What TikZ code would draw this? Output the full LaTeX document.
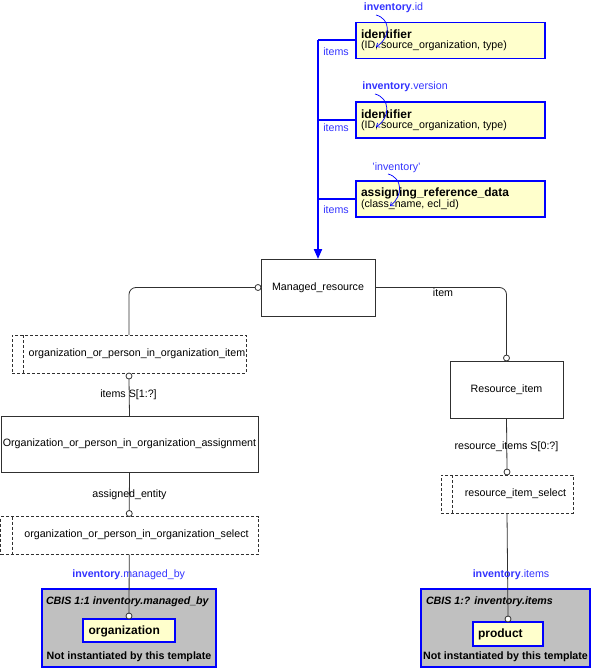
\documentclass[tikz,border=0pt]{standalone}
\usepackage{fontspec}
\setmainfont{Liberation Sans}
\usetikzlibrary{arrows.meta}
\definecolor{ybox}{HTML}{FFFFCC}
\definecolor{gbox}{HTML}{C0C0C0}
\definecolor{bl}{HTML}{0000FF}
\definecolor{bltxt}{HTML}{3333FF}
\definecolor{ln}{HTML}{303030}
\begin{document}
\begin{tikzpicture}[x=1pt,y=-1pt,
  every node/.style={inner sep=0pt, outer sep=0pt},
  txt/.style={font=\fontsize{10.67}{12}\selectfont},
  btxt/.style={font=\fontsize{12}{13}\selectfont\bfseries},
  yelbox/.style={draw=bl, line width=1.5pt, fill=ybox, anchor=north west},
  greybox/.style={draw=bl, line width=1.5pt, fill=gbox, anchor=north west},
  entbox/.style={draw=ln, line width=0.8pt, fill=white, anchor=north west},
  selbox/.style={draw=ln, line width=0.8pt, dashed, dash pattern=on 3pt off 2pt, fill=white, anchor=north west},
  conn/.style={draw=ln, line width=0.8pt},
  circ/.style={circle, draw=ln, line width=0.8pt, fill=white, minimum size=6pt},
  bluethick/.style={draw=bl, line width=2pt},
  bluecurve/.style={draw=bl, line width=0.7pt, -{Straight Barb[length=3pt,width=5pt]}},
  lbl/.style={txt, text=bltxt},
]
\useasboundingbox (0,0) rectangle (596,669);

% yellow boxes
\node[yelbox, minimum width=189pt, minimum height=36pt] (id1) at (356,22.5) {};
\node[yelbox, minimum width=189pt, minimum height=36pt] (id2) at (356,102) {};
\node[yelbox, minimum width=189pt, minimum height=36pt] (ard) at (356,181) {};
\node[btxt, anchor=west] (id1t) at (361,34.5) {identifier};
\node[txt, anchor=west] (id1s) at (361,46) {(ID, source\_organization, type)};
\node[btxt, anchor=west] (id2t) at (361,114) {identifier};
\node[txt, anchor=west] (id2s) at (361,126) {(ID, source\_organization, type)};
\node[btxt, anchor=west] (ardt) at (361,193) {assigning\_reference\_data};
\node[txt, anchor=west] (ards) at (361,204.5) {(class\_name, ecl\_id)};

% blue labels above yellow boxes
\node[lbl] (l1) at (393.5,8) {\textbf{inventory}.id};
\node[lbl] (l2) at (405,87) {\textbf{inventory}.version};
\node[lbl] (l3) at (396.5,168) {'inventory'};
\coordinate (l1s) at (376,15);
\coordinate (l1e) at (376,47);
\coordinate (l2s) at (375,94);
\coordinate (l2e) at (376,127);
\coordinate (l3s) at (388,174);
\coordinate (l3e) at (390,206);
\draw[bluecurve] (l1s) .. controls (391,19) and (391,37) .. (l1e);
\draw[bluecurve] (l2s) .. controls (390,98) and (391,117) .. (l2e);
\draw[bluecurve] (l3s) .. controls (403,178) and (403,196) .. (l3e);

% Managed_resource
\node[entbox, minimum width=114pt, minimum height=57pt] (mr) at (261,259) {};
\node[txt] (mrt) at (318,288) {Managed\_resource};

% blue tree
\draw[bluethick] (id1.west) -- (id1.west -| mr.north);
\draw[bluethick] (id2.west) -- (id2.west -| mr.north);
\draw[bluethick] (ard.west) -- (ard.west -| mr.north);
\draw[bluethick, -{Triangle[length=10pt,width=8pt]}] (id1.west -| mr.north) -- (mr.north);
\node[lbl] (it1) at (336,51.5) {items};
\node[lbl] (it2) at (336,127.5) {items};
\node[lbl] (it3) at (336,210) {items};

% left branch
\node[selbox, minimum width=234pt, minimum height=38pt] (ooi) at (12,335) {};
\draw[conn, dashed, dash pattern=on 3pt off 2pt] ([xshift=11pt]ooi.north west) -- ([xshift=11pt]ooi.south west);
\node[txt] (ooit) at (137,354) {organization\_or\_person\_in\_organization\_item};
\node[circ, anchor=east] (mrc) at (mr.west) {};
\draw[conn, rounded corners=7pt] (ooi.north) |- (mrc.west);

\node[circ, anchor=north] (ooic) at (ooi.south) {};
\node[entbox, minimum width=257pt, minimum height=56pt] (ooa) at (1,416) {};
\node[txt] (ooat) at (129.5,444) {Organization\_or\_person\_in\_organization\_assignment};
\draw[conn] (ooic.south) -- (ooa.north);
\node[txt] (ooil) at (128.5,394.5) {items S[1:?]};

\node[selbox, minimum width=257.5pt, minimum height=38pt] (oos) at (0.5,516.5) {};
\draw[conn, dashed, dash pattern=on 3pt off 2pt] ([xshift=11.5pt]oos.north west) -- ([xshift=11.5pt]oos.south west);
\node[txt] (oost) at (136.5,535) {organization\_or\_person\_in\_organization\_select};
\node[circ, anchor=south] (oosc) at (oos.north) {};
\draw[conn] (ooa.south) -- (oosc.north);
\node[txt] (ooal) at (129.5,495) {assigned\_entity};

% left grey box
\node[greybox, minimum width=174pt, minimum height=78pt] (gl) at (42,589) {};
\node[txt, font=\fontsize{10.67}{12}\selectfont\bfseries\itshape, anchor=west] (glt) at (46,602) {CBIS 1:1 inventory.managed\_by};
\node[txt, font=\fontsize{10.67}{12}\selectfont\bfseries] (glb) at (129,657) {Not instantiated by this template};
\node[yelbox, minimum width=92pt, minimum height=23pt] (org) at (83,619) {};
\node[btxt, anchor=west] (orgt) at (88.5,631) {organization};
\node[circ, anchor=south] (orgc) at (org.north) {};
\draw[conn] (oos.south) -- (orgc.north);
\node[lbl] (lmb) at (128.7,575) {\textbf{inventory}.managed\_by};

% right branch
\node[entbox, minimum width=113pt, minimum height=57pt] (ri) at (450,361) {};
\node[txt] (rit) at (506.5,389.5) {Resource\_item};
\node[circ, anchor=south] (ric) at (ri.north) {};
\draw[conn, rounded corners=7pt] (mr.east) -| (ric.north);
\node[txt] (mrl) at (443,292.5) {item};

\node[selbox, minimum width=132pt, minimum height=38pt] (ris) at (441,475) {};
\draw[conn, dashed, dash pattern=on 3pt off 2pt] ([xshift=11pt]ris.north west) -- ([xshift=11pt]ris.south west);
\node[txt] (rist) at (515.5,493.5) {resource\_item\_select};
\node[circ, anchor=south] (risc) at (ris.north) {};
\draw[conn] (ri.south) -- (risc.north);
\node[txt] (ril) at (506.5,447) {resource\_items S[0:?]};

% right grey box
\node[greybox, minimum width=169pt, minimum height=78pt] (gr) at (421,589) {};
\node[txt, font=\fontsize{10.67}{12}\selectfont\bfseries\itshape, anchor=west] (grt) at (426,602) {CBIS 1:? inventory.items};
\node[txt, font=\fontsize{10.67}{12}\selectfont\bfseries] (grb) at (505.5,657) {Not instantiated by this template};
\node[yelbox, minimum width=70pt, minimum height=24pt] (prod) at (473,622) {};
\node[btxt, anchor=west] (prodt) at (478,634) {product};
\node[circ, anchor=south] (prodc) at (prod.north) {};
\draw[conn] (ris.south) -- (prodc.north);
\node[lbl] (lit) at (511,575) {\textbf{inventory}.items};
\end{tikzpicture}
\end{document}
